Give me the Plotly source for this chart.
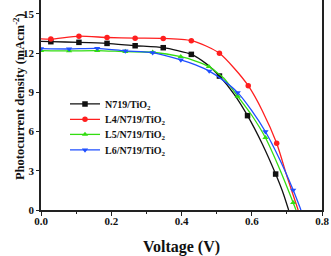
import plotly.graph_objects as go

# ---- data ----
names = ["N719/TiO<sub>2</sub>", "L4/N719/TiO<sub>2</sub>",
         "L5/N719/TiO<sub>2</sub>", "L6/N719/TiO<sub>2</sub>"]
colors = ["#111111", "#ff1f1f", "#33dd11", "#1f4fff"]
symbols = ["square", "circle", "triangle-up", "triangle-down"]

v_n719 = [0, 0.028, 0.108, 0.188, 0.268, 0.348, 0.428, 0.47, 0.508, 0.55, 0.588, 0.63, 0.668, 0.69, 0.705]
j_n719 = [12.9, 12.88, 12.83, 12.75, 12.57, 12.42, 11.91, 11.2, 10.25, 8.85, 7.22, 5.05, 2.75, 1.25, 0]
m_n719 = [0, 1, 1, 1, 1, 1, 1, 0, 1, 0, 1, 0, 1, 0, 0]

v_l4 = [0, 0.028, 0.108, 0.188, 0.268, 0.348, 0.428, 0.47, 0.508, 0.55, 0.59, 0.63, 0.671, 0.70, 0.732]
j_l4 = [13.1, 13.08, 13.3, 13.2, 13.15, 13.13, 12.96, 12.55, 11.99, 10.85, 9.51, 7.6, 5.1, 2.6, 0]
m_l4 = [0, 1, 1, 1, 1, 1, 1, 0, 1, 0, 1, 0, 1, 0, 0]

v_l5 = [0, 0.08, 0.16, 0.24, 0.318, 0.398, 0.44, 0.478, 0.52, 0.56, 0.60, 0.639, 0.68, 0.718, 0.726]
j_l5 = [12.2, 12.17, 12.2, 12.12, 12.07, 11.73, 11.4, 10.97, 10.1, 8.7, 7.25, 5.53, 3.1, 0.56, 0]
m_l5 = [1, 1, 1, 1, 1, 1, 0, 1, 0, 1, 0, 1, 0, 1, 0]

v_l6 = [0, 0.08, 0.16, 0.24, 0.318, 0.398, 0.44, 0.479, 0.52, 0.56, 0.60, 0.639, 0.68, 0.718, 0.74]
j_l6 = [12.35, 12.32, 12.37, 12.17, 12.04, 11.48, 11.1, 10.63, 9.9, 8.98, 7.6, 5.99, 3.85, 1.53, 0]
m_l6 = [1, 1, 1, 1, 1, 1, 0, 1, 0, 1, 0, 1, 0, 1, 0]

series = [(v_n719, j_n719, m_n719), (v_l4, j_l4, m_l4), (v_l5, j_l5, m_l5), (v_l6, j_l6, m_l6)]

x_ticks = [0.0, 0.2, 0.4, 0.6, 0.8]
y_ticks = [0, 3, 6, 9, 12, 15]

FONT = "Liberation Serif, Times New Roman, DejaVu Serif, serif"
legend_ids = ["legend", "legend2", "legend3", "legend4"]
legend_y = [0.505, 0.432, 0.36, 0.286]

fig = go.Figure()
for (v, j, m), name, c, s, lid in zip(series, names, colors, symbols, legend_ids):
    fig.add_trace(go.Scatter(x=v, y=j, mode="lines", line=dict(color=c, width=1.3, shape="spline", smoothing=0.6),
                             showlegend=False, hoverinfo="skip"))
    mv = [a for a, k in zip(v, m) if k]
    mj = [b for b, k in zip(j, m) if k]
    fig.add_trace(go.Scatter(x=mv, y=mj, mode="markers", marker=dict(symbol=s, size=5.5, color=c),
                             showlegend=False))
    # legend entry
    fig.add_trace(go.Scatter(x=[None], y=[None], mode="lines+markers", name=name, legend=lid,
                             line=dict(color=c, width=1.3), marker=dict(symbol=s, size=5.5, color=c)))

legend_style = dict(x=0.0854, xanchor="left", yanchor="middle", bgcolor="rgba(0,0,0,0)",
                    font=dict(family=FONT, size=10, weight="bold"))
fig.update_layout(**{lid: dict(y=ly, **legend_style) for lid, ly in zip(legend_ids, legend_y)})

fig.update_layout(
    width=331, height=256,
    margin=dict(l=41, r=9, t=0, b=46),
    plot_bgcolor="white", paper_bgcolor="white",
    font=dict(family=FONT, size=11, color="#111", weight="bold"),
    showlegend=True,
    xaxis=dict(range=[0, 0.8], tickvals=x_ticks, tickformat=".1f", ticks="outside", ticklen=4,
               tickwidth=1.2, tickcolor="#222", showline=True, linecolor="#222", linewidth=1.5,
               showgrid=False, zeroline=False, ticklabelstandoff=-4,
               minor=dict(dtick=0.1, ticks="outside", ticklen=2, tickcolor="#222", tickwidth=1.2),
               title=dict(text="Voltage (V)", font=dict(family=FONT, size=16, weight="bold"), standoff=15),
               tickfont=dict(family=FONT, size=11, weight="bold")),
    yaxis=dict(range=[0, 16.07], tickvals=y_ticks, ticks="outside", ticklen=3, tickwidth=1.2,
               tickcolor="#222", showline=True, linecolor="#222", linewidth=1.5, mirror=True,
               showgrid=False, zeroline=False,
               tickfont=dict(family=FONT, size=11, weight="bold")),
    annotations=[dict(text="Photocurrent density (mAcm<sup>-2</sup>)", textangle=-90,
                      xref="paper", yref="paper", x=-0.078, y=0.538, xanchor="center", yanchor="middle",
                      showarrow=False, font=dict(family=FONT, size=12.5, weight="bold"))],
)

fig.write_html("out.html", post_script="document.body.style.margin='0';",
               config={"displayModeBar": False})
